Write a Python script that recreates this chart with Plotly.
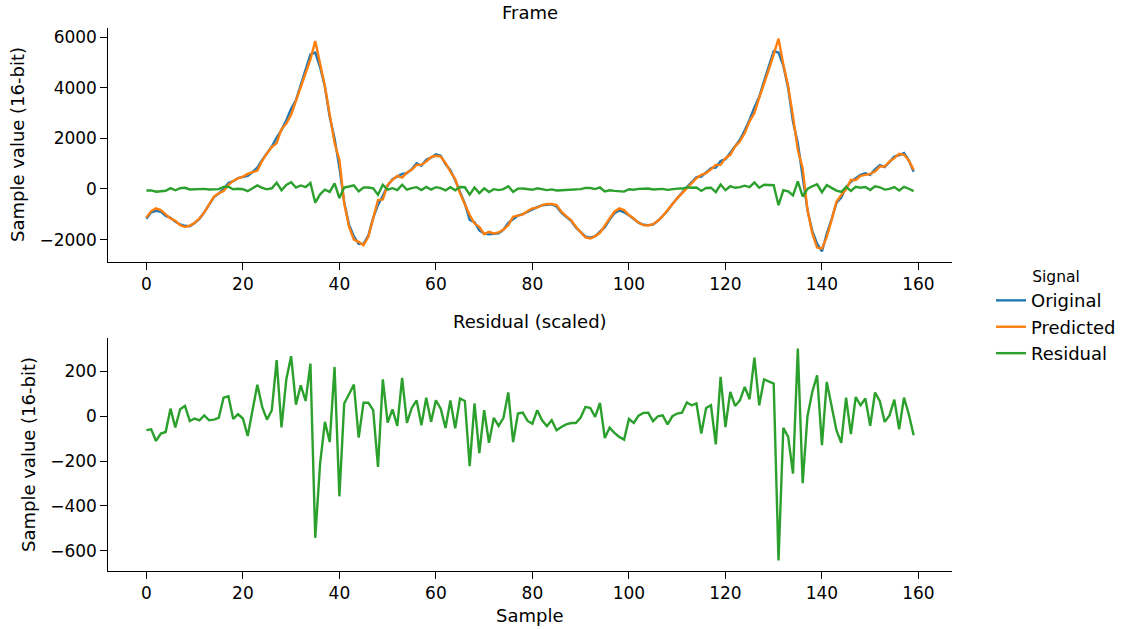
import plotly.graph_objects as go

samples = list(range(160))

original = [
    -1178, -923, -862, -899, -1066, -1136, -1300, -1404, -1457, -1474,
    -1346, -1180, -924, -611, -318, -178, -8, 235, 308, 432,
    482, 521, 672, 848, 1148, 1404, 1678, 2027, 2328, 2721,
    3167, 3513, 4117, 4633, 5324, 5391, 4812, 4044, 2841, 2001,
    849, -521, -1413, -1879, -2173, -2173, -1842, -1142, -629, -270,
    135, 383, 479, 595, 624, 786, 1013, 919, 1157, 1237,
    1371, 1313, 975, 748, 344, -105, -578, -1223, -1316, -1635,
    -1764, -1795, -1767, -1758, -1608, -1340, -1197, -1049, -992, -892,
    -796, -718, -651, -633, -611, -689, -941, -1103, -1257, -1522,
    -1700, -1884, -1929, -1870, -1683, -1512, -1208, -963, -846, -922,
    -1043, -1191, -1334, -1417, -1429, -1409, -1258, -1069, -865, -596,
    -361, -158, 79, 267, 472, 491, 653, 823, 847, 1103,
    1177, 1443, 1720, 1943, 2322, 2739, 3227, 3643, 4270, 4859,
    5446, 5398, 4877, 3987, 2655, 1806, 568, -834, -1668, -2161,
    -2467, -1763, -1195, -556, -339, 58, 289, 430, 558, 623,
    559, 778, 944, 866, 1089, 1281, 1341, 1421, 1133, 683,
]

predicted = [
    -1125, -874, -768, -834, -1006, -1165, -1258, -1430, -1496, -1456,
    -1337, -1165, -927, -596, -305, -172, -79, 159, 318, 424,
    490, 596, 649, 728, 1112, 1417, 1655, 1814, 2370, 2582,
    2939, 3469, 4000, 4575, 5124, 5852, 4991, 4065, 2939, 1814,
    1152, -569, -1496, -1999, -2092, -2224, -1893, -1165, -437, -410,
    159, 357, 516, 450, 649, 755, 953, 953, 1086, 1258,
    1311, 1284, 1019, 688, 390, -172, -636, -1033, -1364, -1496,
    -1787, -1695, -1761, -1721, -1602, -1430, -1099, -1059, -1006, -874,
    -768, -741, -636, -596, -596, -636, -900, -1072, -1231, -1496,
    -1695, -1920, -1960, -1867, -1734, -1430, -1165, -900, -768, -834,
    -1033, -1165, -1337, -1430, -1443, -1390, -1258, -1072, -834, -596,
    -371, -172, 26, 225, 424, 556, 622, 781, 953, 953,
    1218, 1350, 1681, 1880, 2211, 2674, 3005, 3601, 4131, 4727,
    5322, 5945, 4920, 4065, 2873, 1549, 821, -834, -1761, -2317,
    -2357, -1893, -1231, -503, -238, -13, 357, 357, 516, 556,
    596, 688, 887, 887, 1086, 1218, 1390, 1350, 1125, 755,
]

residual = [
    -62, -58, -110, -77, -70, 34, -50, 31, 46, -21,
    -10, -18, 4, -18, -15, -7, 83, 89, -12, 9,
    -10, -88, 27, 141, 42, -15, 27, 250, -50, 164,
    268, 52, 138, 68, 235, -542, -211, -25, -115, 220,
    -357, 57, 98, 141, -95, 60, 60, 27, -226, 165,
    -28, 31, -43, 171, -30, 37, 71, -40, 83, -25,
    71, 34, -52, 71, -54, 79, 68, -223, 57, -164,
    27, -118, -7, -43, -7, 106, -115, 12, 16, -21,
    -33, 27, -18, -44, -18, -62, -48, -36, -30, -30,
    -6, 42, 37, -3, 60, -97, -51, -74, -92, -104,
    -12, -30, 3, 15, 16, -22, 0, 4, -36, 0,
    12, 16, 62, 49, 57, -77, 37, 49, -125, 176,
    -48, 109, 46, 71, 131, 76, 261, 49, 164, 155,
    146, -643, -51, -92, -256, 302, -298, 0, 109, 183,
    -129, 153, 42, -62, -119, 83, -80, 86, 49, 79,
    -43, 106, 67, -25, 4, 74, -58, 83, 9, -85,
]

x_ticks = [0, 20, 40, 60, 80, 100, 120, 140, 160]
top_y_ticks = [-2000, 0, 2000, 4000, 6000]
bottom_y_ticks = [-600, -400, -200, 0, 200]

series_names = ["Original", "Predicted", "Residual"]
colors = ["#1f77b4", "#ff7f0e", "#2ca02c"]

FONT = "DejaVu Sans"
LW = 2.4

fig = go.Figure()
for name, vals, col in zip(series_names, [original, predicted, residual], colors):
    fig.add_trace(go.Scatter(x=samples, y=vals, mode="lines", name=name,
                             line=dict(color=col, width=LW),
                             xaxis="x", yaxis="y", legendgroup=name))
fig.add_trace(go.Scatter(x=samples, y=residual, mode="lines", name="Residual",
                         line=dict(color=colors[2], width=LW),
                         xaxis="x2", yaxis="y2", showlegend=False))

L, R, T, B = 108, 176, 28, 58
W, H = 1128, 629
PW, PH = W - L - R, H - T - B

def px(xp):
    return (xp - L) / PW

def py(yp):
    return (H - B - yp) / PH

axis_common = dict(showline=True, linecolor="black", linewidth=1.3, ticks="outside",
                   ticklen=6.5, tickwidth=1.3, tickcolor="black", showgrid=False,
                   zeroline=False, mirror=False,
                   tickfont=dict(family=FONT, size=17, color="black"))

fig.update_layout(
    width=W, height=H,
    margin=dict(l=L, r=R, t=T, b=B, autoexpand=False),
    paper_bgcolor="white", plot_bgcolor="white",
    font=dict(family=FONT, size=17, color="black"),
    xaxis=dict(domain=[0, 1], anchor="y", range=[-7.95, 166.95], tickmode="array",
               tickvals=x_ticks, **axis_common),
    yaxis=dict(domain=[py(262), 1], anchor="x", range=[-2888, 6366], tickmode="array",
               tickvals=top_y_ticks, **axis_common),
    xaxis2=dict(domain=[0, 1], anchor="y2", range=[-7.95, 166.95], tickmode="array",
                tickvals=x_ticks, **axis_common),
    yaxis2=dict(domain=[0, py(338)], anchor="x2", range=[-690, 349], tickmode="array",
                tickvals=bottom_y_ticks, **axis_common),
    legend=dict(x=px(991), y=py(262), xanchor="left", yanchor="top",
                title=dict(text="Signal", side="top center",
                           font=dict(family=FONT, size=15.5, color="black")),
                font=dict(family=FONT, size=18, color="black"),
                bgcolor="rgba(0,0,0,0)", borderwidth=0, tracegroupgap=0),
    showlegend=True,
)

annotations = [
    dict(text="Frame", x=0.5, y=py(12), xref="paper", yref="paper", showarrow=False,
         xanchor="center", yanchor="middle", font=dict(family=FONT, size=18, color="black")),
    dict(text="Residual (scaled)", x=0.5, y=py(321), xref="paper", yref="paper", showarrow=False,
         xanchor="center", yanchor="middle", font=dict(family=FONT, size=18, color="black")),
    dict(text="Sample", x=0.5, y=py(615), xref="paper", yref="paper", showarrow=False,
         xanchor="center", yanchor="middle", font=dict(family=FONT, size=18, color="black")),
    dict(text="Sample value (16-bit)", x=px(17), y=py(145), xref="paper", yref="paper",
         showarrow=False, textangle=-90, xanchor="center", yanchor="middle",
         font=dict(family=FONT, size=18, color="black")),
    dict(text="Sample value (16-bit)", x=px(28), y=py(455), xref="paper", yref="paper",
         showarrow=False, textangle=-90, xanchor="center", yanchor="middle",
         font=dict(family=FONT, size=18, color="black")),
]
fig.update_layout(annotations=annotations)

fig.write_html("out.html", config={"displayModeBar": False},
               post_script="document.body.style.margin='0';document.body.style.padding='0';")
